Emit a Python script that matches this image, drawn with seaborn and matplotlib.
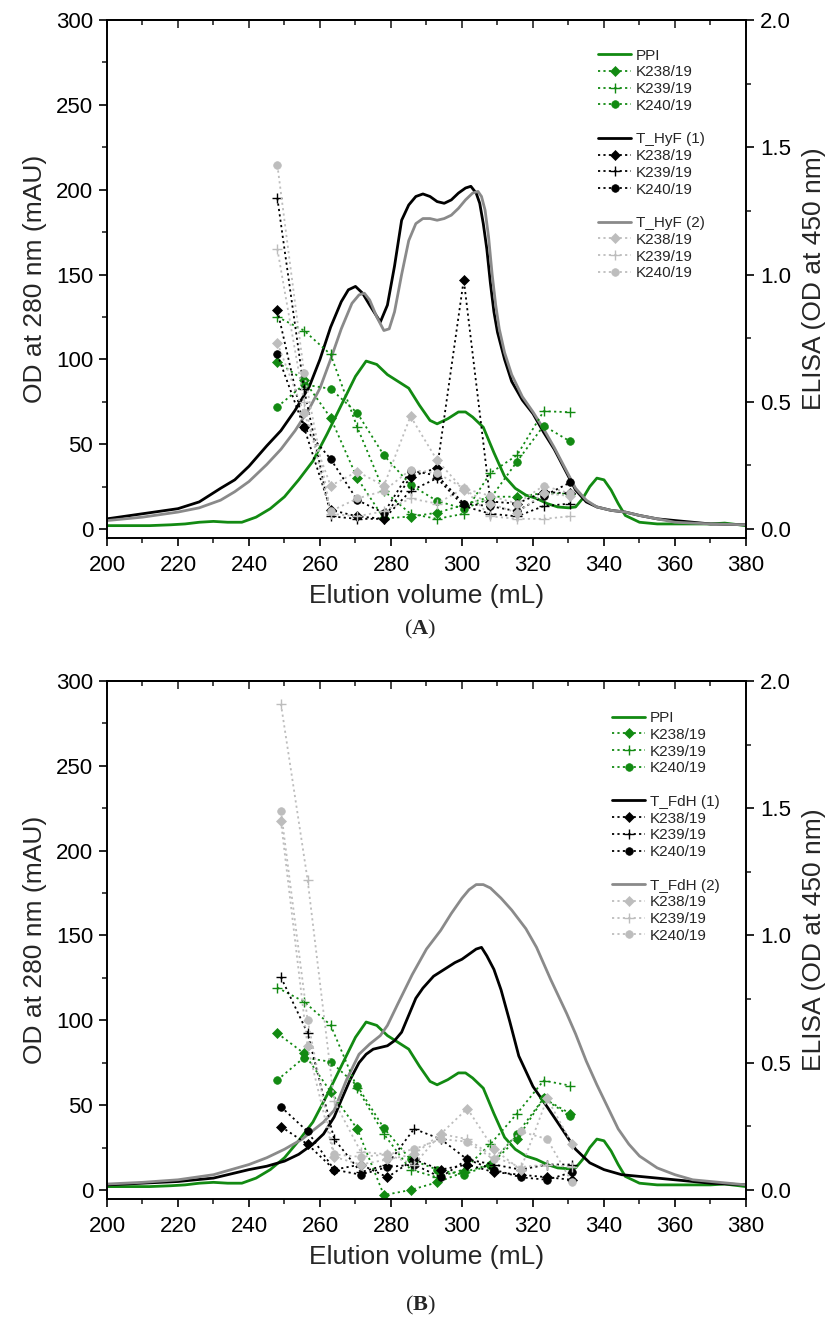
import matplotlib
matplotlib.use("Agg")
import matplotlib.pyplot as plt
import seaborn as sns
from matplotlib.lines import Line2D
from matplotlib.ticker import MultipleLocator, FormatStrFormatter

sns.set_theme(style="ticks")
plt.rcParams["font.family"] = ["Liberation Sans", "DejaVu Sans"]
plt.rcParams["mathtext.fontset"] = "custom"
plt.rcParams["mathtext.bf"] = "Liberation Serif:bold"
plt.rcParams["mathtext.rm"] = "Liberation Serif"

GREEN = "#128a12"
BLACK = "#000000"
GRAY = "#8a8a8a"
LGRAY = "#bdbdbd"

# ---------------- data: chromatograms (mAU) ----------------
ppi_x = [200, 206, 212, 218, 222, 226, 230, 234, 238, 242, 246, 250, 254, 258, 262,
         266, 270, 273, 276, 279, 282, 285, 288, 291, 293, 296, 299, 301, 303, 306,
         309, 312, 315, 318, 321, 324, 327, 330, 332, 334, 336, 338, 340, 342, 344,
         346, 348, 350, 355, 360, 365, 370, 374, 378, 380]
ppi_y = [2, 2, 2, 2.5, 3, 4, 4.5, 4, 4, 7, 12, 19, 29, 40, 56,
         73, 90, 99, 97, 91, 87, 83, 73, 64, 62, 65, 69, 69, 66, 60,
         45, 31, 24, 20, 18, 15, 13, 12.5, 13, 18, 25, 30, 29, 23, 15,
         8, 6, 4, 3, 3, 3, 3, 3.5, 2.5, 2]

hyf1_x = [200, 210, 220, 226, 232, 236, 240, 245, 249, 253, 257, 260, 263, 266, 268,
          270, 272, 274, 277, 279, 281, 283, 285, 287, 289, 291, 293, 295, 297, 299,
          301, 302.5, 304, 305, 306, 307, 308, 309, 310, 312, 314, 317, 320, 323, 326,
          329, 332, 335, 338, 342, 346, 350, 355, 360, 370, 380]
hyf1_y = [6, 9, 12, 16, 24, 29, 37, 49, 58, 70, 84, 100, 119, 134, 141,
          143, 139, 132, 122, 132, 155, 182, 191, 196, 197.5, 196, 193, 192, 194, 198,
          201, 202, 198, 192, 180, 165, 145, 128, 116, 100, 87, 76, 68, 57, 47,
          35, 23, 16, 13, 11, 10, 8, 6, 5, 3, 2.5]

hyf2_x = [200, 210, 220, 226, 232, 236, 240, 245, 249, 253, 257, 260, 263, 266, 269,
          271, 272.5, 274, 276, 278, 279.5, 281, 283, 285, 287, 289, 291, 293, 295, 297,
          299, 301, 303, 304.5, 305.5, 306.5, 307.5, 308.5, 309.5, 310.5, 312, 314, 317, 320, 323,
          326, 329, 332, 335, 338, 342, 346, 350, 355, 360, 370, 380]
hyf2_y = [5, 7, 10, 12.5, 17, 22, 28, 38, 47, 58, 71, 83, 100, 118, 133,
          138, 139, 135, 125, 117, 118, 128, 150, 170, 180, 183, 183, 182, 183, 185,
          189, 194, 198, 199, 196, 188, 172, 150, 132, 118, 104, 91, 78, 69, 59,
          48, 36, 24, 17, 13, 11, 10, 8, 6, 4, 3, 2.5]

fdh1_x = [200, 210, 220, 230, 240, 245, 250, 254, 258, 261, 264, 266, 268.5, 271, 273,
          275, 277, 279, 281, 283, 285, 287, 289, 292, 295, 298, 300, 302, 304, 305.5,
          307, 309, 311, 313.5, 316, 320, 324, 328.5, 332, 336, 340, 345, 350, 355, 360,
          370, 380]
fdh1_y = [3, 4, 5, 7, 12, 14, 17, 21, 27, 33, 43, 53, 65, 75, 80,
          83, 84, 85, 88, 93, 103, 113, 119, 126, 130, 134, 136, 139, 142, 143,
          138, 130, 118, 99, 79, 61, 49, 35, 24, 16, 12, 9, 8, 7, 6,
          4, 3]

fdh2_x = [200, 210, 220, 230, 240, 245, 250, 255, 258, 261, 264, 267.5, 271, 274, 277,
          279, 282, 286, 290, 294, 297, 300, 302, 304, 306, 308, 311, 314, 318, 321,
          325, 329.5, 332, 335, 338, 341, 344, 347, 350, 355, 360, 365, 370, 375, 380]
fdh2_y = [3.5, 4.5, 6, 9, 15, 19, 24, 30, 35, 40, 47, 65, 80, 86, 91,
          97, 110, 127, 142, 153, 163, 172, 177, 180, 180, 178, 172, 165, 154, 143,
          124, 104, 92, 76, 62, 49, 36, 27, 20, 13, 9, 6, 5, 4, 3]

# ---------------- data: ELISA fractions (OD 450 nm) ----------------
frac_a = [248, 255.5, 263, 270.5, 278, 285.5, 293, 300.5, 308, 315.5, 323, 330.5]
frac_b_green = [248, 255.5, 263, 270.5, 278, 285.5, 293, 300.5, 308, 315.5, 323, 330.5]
frac_b = [249, 256.5, 264, 271.5, 279, 286.5, 294, 301.5, 309, 316.5, 324, 331]

a_ppi_k238 = [0.656, 0.585, 0.437, 0.20, 0.042, 0.049, 0.064, 0.095, 0.127, 0.127, 0.141, 0.138]
a_ppi_k239 = [0.834, 0.78, 0.686, 0.40, 0.15, 0.06, 0.04, 0.06, 0.22, 0.29, 0.463, 0.459]
a_ppi_k240 = [0.48, 0.568, 0.551, 0.456, 0.29, 0.174, 0.11, 0.08, 0.12, 0.265, 0.406, 0.344]
a_t1_k238 = [0.86, 0.40, 0.075, 0.05, 0.04, 0.206, 0.24, 0.98, 0.108, 0.10, 0.146, 0.14]
a_t1_k239 = [1.30, 0.55, 0.05, 0.04, 0.04, 0.15, 0.20, 0.09, 0.06, 0.05, 0.09, 0.10]
a_t1_k240 = [0.686, 0.40, 0.275, 0.114, 0.063, 0.23, 0.21, 0.10, 0.09, 0.07, 0.13, 0.183]
a_t2_k238 = [0.73, 0.457, 0.17, 0.226, 0.17, 0.443, 0.27, 0.154, 0.10, 0.064, 0.14, 0.13]
a_t2_k239 = [1.10, 0.50, 0.06, 0.05, 0.07, 0.12, 0.10, 0.16, 0.05, 0.04, 0.04, 0.05]
a_t2_k240 = [1.43, 0.615, 0.07, 0.12, 0.15, 0.233, 0.22, 0.16, 0.13, 0.10, 0.17, 0.14]

b_ppi_k238 = [0.616, 0.537, 0.386, 0.24, -0.02, 0.0, 0.03, 0.07, 0.10, 0.20, 0.36, 0.30]
b_ppi_k239 = [0.795, 0.74, 0.648, 0.40, 0.22, 0.08, 0.05, 0.08, 0.18, 0.30, 0.43, 0.41]
b_ppi_k240 = [0.432, 0.52, 0.504, 0.409, 0.243, 0.12, 0.08, 0.06, 0.10, 0.22, 0.36, 0.29]
b_t1_k238 = [0.249, 0.18, 0.08, 0.10, 0.05, 0.12, 0.08, 0.10, 0.07, 0.06, 0.05, 0.04]
b_t1_k239 = [0.836, 0.617, 0.20, 0.07, 0.10, 0.24, 0.20, 0.12, 0.10, 0.08, 0.10, 0.10]
b_t1_k240 = [0.327, 0.23, 0.08, 0.06, 0.09, 0.10, 0.05, 0.12, 0.08, 0.05, 0.04, 0.07]
b_t2_k238 = [1.45, 0.566, 0.13, 0.10, 0.12, 0.14, 0.22, 0.32, 0.16, 0.08, 0.36, 0.18]
b_t2_k239 = [1.91, 1.22, 0.35, 0.15, 0.14, 0.10, 0.22, 0.20, 0.13, 0.09, 0.10, 0.09]
b_t2_k240 = [1.49, 0.668, 0.14, 0.13, 0.14, 0.16, 0.20, 0.19, 0.12, 0.23, 0.20, 0.03]

sera = ["K238/19", "K239/19", "K240/19"]
x_label = "Elution volume (mL)"
y_label_left = "OD at 280 nm (mAU)"
y_label_right = "ELISA (OD at 450 nm)"

MARKERS = ["D", "+", "o"]
MSIZE = {"D": 5.0, "+": 7.0, "o": 5.5}
DOT = (0, (1.2, 1.8))


def curve(ax, x, y, color):
    sns.lineplot(x=x, y=y, ax=ax, color=color, linewidth=2.0, estimator=None,
                 sort=False, legend=False)


def elisa(ax, x, y, color, marker):
    sns.lineplot(x=x, y=y, ax=ax, color=color, linewidth=1.3, linestyle=DOT,
                 marker=marker, markersize=MSIZE[marker], markeredgecolor=color,
                 markerfacecolor=color, markeredgewidth=1.0 if marker == "+" else 0.5,
                 estimator=None, sort=False, legend=False)


def panel(ax, curves, groups, frac_lists, names, leg_anchor, caption, cap_y):
    ax2 = ax.twinx()
    for (x, y), c in zip(curves, [GREEN, BLACK, GRAY]):
        curve(ax, x, y, c)
    ecolors = [GREEN, BLACK, LGRAY]
    for grp, fr, c in zip(groups, frac_lists, ecolors):
        for vals, m in zip(grp, MARKERS):
            elisa(ax2, fr, vals, c, m)

    ax.set_xlim(200, 380)
    ax.set_ylim(-5.3, 300)
    ax2.set_ylim(-0.0353, 2.0)
    ax.xaxis.set_major_locator(MultipleLocator(20))
    ax.xaxis.set_minor_locator(MultipleLocator(10))
    ax.yaxis.set_major_locator(MultipleLocator(50))
    ax.yaxis.set_minor_locator(MultipleLocator(25))
    ax2.yaxis.set_major_locator(MultipleLocator(0.5))
    ax2.yaxis.set_minor_locator(MultipleLocator(0.25))
    ax2.yaxis.set_major_formatter(FormatStrFormatter("%.1f"))

    for a in (ax, ax2):
        for s in a.spines.values():
            s.set_linewidth(1.2)
            s.set_color("black")
            s.set_visible(True)
    ax.tick_params(axis="both", which="major", direction="out", length=6, width=1.2,
                   labelsize=16, colors="black", pad=4)
    ax.tick_params(axis="x", which="major", pad=6)
    ax.tick_params(axis="both", which="minor", direction="out", length=3.5, width=1.2)
    ax2.tick_params(axis="y", which="major", direction="out", length=6, width=1.2,
                    labelsize=16, colors="black", pad=4)
    ax2.tick_params(axis="y", which="minor", direction="out", length=3.5, width=1.2)
    top = ax.secondary_xaxis("top")
    top.xaxis.set_major_locator(MultipleLocator(20))
    top.xaxis.set_minor_locator(MultipleLocator(10))
    top.tick_params(which="major", direction="in", length=6, width=1.2, labeltop=False)
    top.tick_params(which="minor", direction="in", length=3.5, width=1.2)

    ax.set_xlabel(x_label, fontsize=19, labelpad=6)
    ax.set_ylabel(y_label_left, fontsize=19, labelpad=6)
    ax2.set_ylabel(y_label_right, fontsize=19, labelpad=8)

    handles, labels = [], []
    blank = Line2D([], [], linestyle="none")
    for i, (c_line, c_dot) in enumerate(zip([GREEN, BLACK, GRAY], ecolors)):
        if i > 0:
            handles.append(blank)
            labels.append("")
        handles.append(Line2D([], [], color=c_line, lw=2.0))
        labels.append(names[i])
        for s, m in zip(sera, MARKERS):
            handles.append(Line2D([], [], color=c_dot, lw=1.3, linestyle=DOT, marker=m,
                                  markersize=MSIZE[m], markeredgecolor=c_dot,
                                  markeredgewidth=1.0 if m == "+" else 0.5))
            labels.append(s)
    ax2.legend(handles, labels, loc="upper left", bbox_to_anchor=leg_anchor,
               frameon=False, fontsize=11, handlelength=2.2, handletextpad=0.3,
               labelspacing=0.18, borderpad=0, borderaxespad=0, numpoints=1)
    ax.figure.text(0.503, cap_y, caption, ha="center", va="center", fontsize=16,
                   family=["Liberation Serif", "DejaVu Serif"])


fig = plt.figure(figsize=(8.35, 13.19), dpi=100)
axA = fig.add_axes([0.1281, 0.5921, 0.7653, 0.3927])
axB = fig.add_axes([0.1281, 0.0910, 0.7653, 0.3927])

panel(axA,
      [(ppi_x, ppi_y), (hyf1_x, hyf1_y), (hyf2_x, hyf2_y)],
      [[a_ppi_k238, a_ppi_k239, a_ppi_k240],
       [a_t1_k238, a_t1_k239, a_t1_k240],
       [a_t2_k238, a_t2_k239, a_t2_k240]],
      [frac_a, frac_a, frac_a],
      ["PPI", "T_HyF (1)", "T_HyF (2)"], (0.768, 0.945), r"($\mathbf{A}$)", 0.523)

panel(axB,
      [(ppi_x, ppi_y), (fdh1_x, fdh1_y), (fdh2_x, fdh2_y)],
      [[b_ppi_k238, b_ppi_k239, b_ppi_k240],
       [b_t1_k238, b_t1_k239, b_t1_k240],
       [b_t2_k238, b_t2_k239, b_t2_k240]],
      [frac_b_green, frac_b, frac_b],
      ["PPI", "T_FdH (1)", "T_FdH (2)"], (0.790, 0.942), r"($\mathbf{B}$)", 0.0106)

fig.savefig("out.png", dpi=100, facecolor="white")
